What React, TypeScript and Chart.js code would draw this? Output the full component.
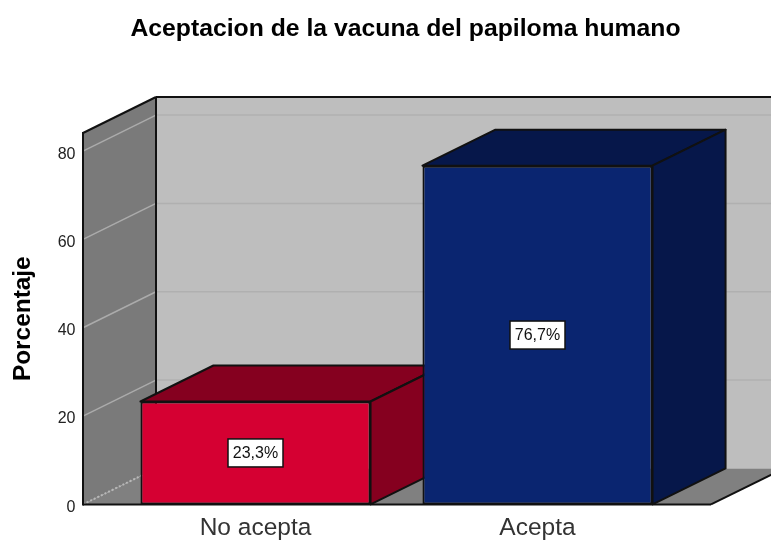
import React, { useEffect, useRef } from "react";
import { Chart, registerables } from "chart.js";

Chart.register(...registerables);

const categories = ["No acepta", "Acepta"];
const percentages = [23.3, 76.7];
const pointLabels = ["23,3%", "76,7%"];
const barFronts = ["#D50032", "#0A2570"];
const barDarks = ["#85001F", "#06174A"];
const yMax = 84.1;
const yTicks = [0, 20, 40, 60, 80];

const FONT = '"Liberation Sans", Arial, sans-serif';
const DX = 73;
const DY = -36;
const LINE = "#111111";

function poly(ctx: CanvasRenderingContext2D, pts: number[][], fill?: string, stroke?: string, lw = 2) {
  ctx.beginPath();
  pts.forEach((p, i) => (i ? ctx.lineTo(p[0], p[1]) : ctx.moveTo(p[0], p[1])));
  ctx.closePath();
  if (fill) {
    ctx.fillStyle = fill;
    ctx.fill();
  }
  if (stroke) {
    ctx.strokeStyle = stroke;
    ctx.lineWidth = lw;
    ctx.lineJoin = "round";
    ctx.stroke();
  }
}

function seg(ctx: CanvasRenderingContext2D, x1: number, y1: number, x2: number, y2: number, color: string, lw = 2, dash: number[] = []) {
  ctx.beginPath();
  ctx.setLineDash(dash);
  ctx.moveTo(x1, y1);
  ctx.lineTo(x2, y2);
  ctx.strokeStyle = color;
  ctx.lineWidth = lw;
  ctx.stroke();
  ctx.setLineDash([]);
}

const box3d = {
  id: "box3d",
  afterLayout(chart: any) {
    // the title is centred over the space right of the axis title
    if (chart.titleBlock) {
      chart.titleBlock.left = 40;
      chart.titleBlock.right = 771;
    }
  },
  beforeDatasetsDraw(chart: any) {
    const { ctx, scales } = chart;
    const x = scales.x;
    const y = scales.y;
    const left = x.left - 31.5;
    const right = x.right + 32.5;
    const top = y.top;
    const bottom = y.bottom;
    ctx.save();
    // back wall
    poly(ctx, [[left + DX, top + DY], [chart.width + 20, top + DY], [chart.width + 20, bottom + DY], [left + DX, bottom + DY]], "#BEBEBE");
    // floor
    poly(ctx, [[left, bottom], [right, bottom], [right + DX, bottom + DY], [left + DX, bottom + DY]], "#808080");
    // side wall
    poly(ctx, [[left, top], [left + DX, top + DY], [left + DX, bottom + DY], [left, bottom]], "#7A7A7A");
    // gridlines
    yTicks.forEach((t) => {
      const py = y.getPixelForValue(t);
      if (t > 0) {
        seg(ctx, left + DX, py + DY, chart.width + 20, py + DY, "#B0B0B0", 1.5);
        seg(ctx, left, py, left + DX, py + DY, "#ABABAB", 1.5);
      } else {
        seg(ctx, left, py, left + DX, py + DY, "#B8B8B8", 2, [2, 2]);
      }
    });
    // frame
    seg(ctx, left, top, left + DX, top + DY, LINE);
    seg(ctx, left + DX, top + DY, chart.width + 20, top + DY, LINE);
    seg(ctx, left, top - 1, left, bottom + 1, LINE);
    seg(ctx, left + DX, top + DY, left + DX, bottom + DY, LINE);
    seg(ctx, left, bottom, right, bottom, LINE);
    seg(ctx, right, bottom, right + DX, bottom + DY, LINE);
    // bar depth faces
    chart.getDatasetMeta(0).data.forEach((bar: any, i: number) => {
      const half = bar.width / 2;
      const l = bar.x - half;
      const r = bar.x + half;
      const t = bar.y;
      const b = bar.base;
      poly(ctx, [[l, t], [r, t], [r + DX, t + DY], [l + DX, t + DY]], barDarks[i], LINE);
      poly(ctx, [[r, t], [r + DX, t + DY], [r + DX, b + DY], [r, b]], barDarks[i], LINE);
    });
    ctx.restore();
  },
  afterDatasetsDraw(chart: any) {
    const { ctx } = chart;
    ctx.save();
    ctx.font = `16px ${FONT}`;
    ctx.textAlign = "center";
    ctx.textBaseline = "middle";
    chart.getDatasetMeta(0).data.forEach((bar: any, i: number) => {
      const cy = (bar.y + bar.base) / 2;
      const w = 55;
      const h = 28;
      ctx.fillStyle = "#FFFFFF";
      ctx.fillRect(bar.x - w / 2, cy - h / 2, w, h);
      ctx.strokeStyle = "#111111";
      ctx.lineWidth = 1.5;
      ctx.strokeRect(bar.x - w / 2, cy - h / 2, w, h);
      ctx.fillStyle = "#111111";
      ctx.fillText(pointLabels[i], bar.x, cy + 1);
    });
    ctx.restore();
  },
};

export default function App() {
  const ref = useRef<HTMLCanvasElement>(null);
  useEffect(() => {
    document.body.style.margin = "0";
    const chart = new Chart(ref.current as HTMLCanvasElement, {
      type: "bar",
      data: {
        labels: categories,
        datasets: [
          {
            data: percentages,
            backgroundColor: barFronts,
            borderColor: LINE,
            borderWidth: 2,
            borderSkipped: false,
            barPercentage: 0.816,
            categoryPercentage: 1,
          },
        ],
      },
      options: {
        responsive: false,
        animation: false,
        layout: { autoPadding: false, padding: { left: 0, right: 92.5, top: 0, bottom: 0 } },
        plugins: {
          legend: { display: false },
          tooltip: { enabled: false },
          title: {
            display: true,
            text: "Aceptacion de la vacuna del papiloma humano",
            color: "#000000",
            font: { family: FONT, size: 24.75, weight: "bold" },
            padding: { top: 14, bottom: 89.3 },
          },
        },
        scales: {
          x: {
            grid: { display: false, drawTicks: false },
            border: { display: false },
            ticks: { color: "#333333", font: { family: FONT, size: 24.5 }, padding: 9, maxRotation: 0 },
          },
          y: {
            min: 0,
            max: yMax,
            grid: { display: false, drawTicks: false },
            border: { display: false },
            title: {
              display: true,
              text: "Porcentaje",
              color: "#000000",
              font: { family: FONT, size: 24.4, weight: "bold" },
              padding: { top: 9, bottom: 0 },
            },
            ticks: {
              color: "#222222",
              font: { family: FONT, size: 16 },
              padding: 39,
              stepSize: 20,
              includeBounds: false,
              labelOffset: 3,
            },
            afterFit(scale: any) {
              scale.width = 114.5;
            },
          },
        },
      },
      plugins: [box3d],
    } as any);
    return () => chart.destroy();
  }, []);
  return (
    <div style={{ width: 771, height: 541, overflow: "hidden" }}>
      <canvas ref={ref} width={771} height={553} style={{ display: "block" }} />
    </div>
  );
}
